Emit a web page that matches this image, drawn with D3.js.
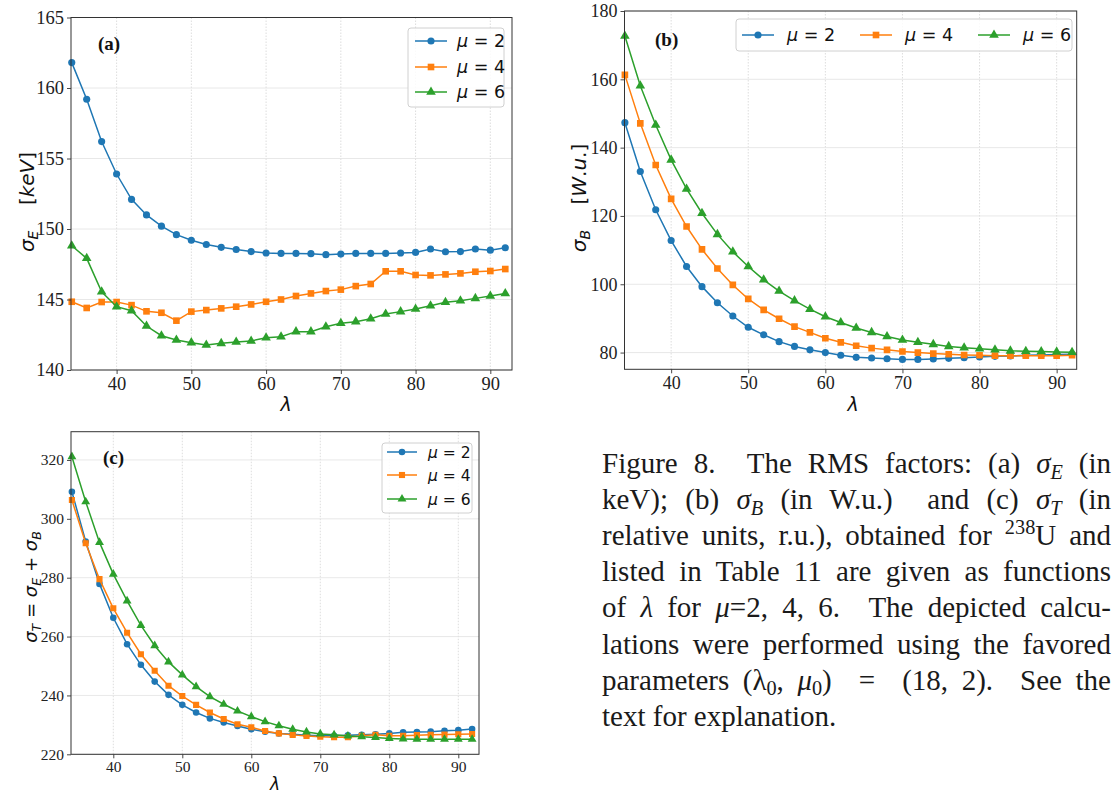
<!DOCTYPE html>
<html><head><meta charset="utf-8">
<script src="https://cdn.jsdelivr.net/npm/d3@7"></script>
<style>body{margin:0;background:#fff;overflow:hidden} svg{display:block}</style>
</head><body>
<svg id="fig" width="1112" height="793"></svg>
<script>
// ---------------- data ----------------
const lambdas = [34,36,38,40,42,44,46,48,50,52,54,56,58,60,62,64,66,68,70,72,74,76,78,80,82,84,86,88,90,92];
const muLabels = ["2","4","6"];

// (a) sigma_E [keV]
const sigmaE_mu2 = [161.8,159.2,156.2,153.9,152.1,151.0,150.2,149.6,149.2,148.9,148.7,148.55,148.4,148.3,148.27,148.27,148.25,148.18,148.22,148.27,148.27,148.27,148.3,148.34,148.58,148.39,148.4,148.58,148.5,148.67];
const sigmaE_mu4 = [144.84,144.4,144.82,144.82,144.6,144.16,144.06,143.5,144.14,144.25,144.37,144.49,144.65,144.84,145.0,145.25,145.43,145.6,145.7,145.95,146.1,147.0,147.0,146.74,146.71,146.78,146.85,146.97,147.02,147.16];
const sigmaE_mu6 = [148.81,147.92,145.55,144.49,144.2,143.12,142.43,142.13,141.94,141.77,141.89,141.98,142.06,142.29,142.36,142.72,142.72,143.07,143.31,143.43,143.64,143.97,144.14,144.32,144.56,144.8,144.91,145.08,145.25,145.43];

// (b) sigma_B [W.u.]
const sigmaB_mu2 = [147.3,133.0,121.8,112.8,105.2,99.3,94.6,90.7,87.4,85.2,83.2,81.8,80.8,80.0,79.2,78.6,78.4,78.2,78.0,78.0,78.1,78.3,78.5,78.7,78.9,79.0,79.2,79.3,79.4,79.5];
const sigmaB_mu4 = [161.3,147.1,134.9,125.0,116.9,110.2,104.6,99.8,95.7,92.5,89.9,87.6,85.9,84.2,83.0,82.0,81.3,80.8,80.3,80.0,79.7,79.5,79.3,79.2,79.1,79.1,79.1,79.1,79.1,79.2];
const sigmaB_mu6 = [172.7,158.1,146.6,136.4,127.9,120.8,114.6,109.5,105.2,101.3,98.0,95.2,92.7,90.5,88.8,87.2,85.9,84.7,83.7,83.0,82.4,81.8,81.4,81.1,80.8,80.5,80.4,80.3,80.2,80.1];

// (c) sigma_T = sigma_E + sigma_B
const sigmaT_mu2 = [309.2,292.3,277.9,266.4,257.4,250.4,244.7,240.2,236.8,234.2,232.2,230.8,229.6,228.5,227.7,227.1,226.8,226.5,226.3,226.3,226.5,226.6,226.8,227.1,227.5,227.6,227.7,228.0,228.2,228.6];
const sigmaT_mu4 = [306.4,291.7,279.5,269.6,261.3,254.0,248.4,243.3,239.8,236.8,234.2,232.0,230.2,229.2,227.9,227.1,226.6,226.2,226.0,225.8,225.8,226.3,226.6,226.3,226.3,226.5,226.6,226.7,226.8,226.9];
const sigmaT_mu6 = [321.1,305.8,292.0,281.2,272.1,263.8,256.9,251.4,247.0,243.0,239.6,237.0,234.7,232.8,231.1,229.7,228.5,227.6,226.9,226.6,226.2,226.0,225.7,225.4,225.2,225.1,225.1,225.1,225.1,225.1];

const xTicks = [40,50,60,70,80,90];
const yTicksA = [140,145,150,155,160,165];
const yTicksB = [80,100,120,140,160,180];
const yTicksC = [220,240,260,280,300,320];

// ---------------- style ----------------
const colors = ["#1f77b4","#ff7f0e","#2ca02c"];
const symbols = [d3.symbolCircle, d3.symbolSquare, d3.symbolTriangle];
const symSizes = [40, 44, 40];
const SERIF = "'Liberation Serif','Times New Roman',serif";
const SANS = "'DejaVu Sans','Liberation Sans',sans-serif";

const svg = d3.select("#fig");

function drawPanel(p) {
  const x = d3.scaleLinear().domain(p.xdom).range([p.left, p.right]);
  const y = d3.scaleLinear().domain(p.ydom).range([p.bottom, p.top]);
  const g = svg.append("g");
  // grid
  g.selectAll(".vg").data(xTicks).join("line")
    .attr("x1", d => x(d)).attr("x2", d => x(d)).attr("y1", p.top).attr("y2", p.bottom)
    .attr("stroke", "#d4d4d4").attr("stroke-width", 0.8).attr("stroke-dasharray", "1.5,1.5");
  g.selectAll(".hg").data(p.yticks).join("line")
    .attr("y1", d => y(d)).attr("y2", d => y(d)).attr("x1", p.left).attr("x2", p.right)
    .attr("stroke", "#e2e2e2").attr("stroke-width", 0.8);
  // series
  const clip = "clip" + p.id;
  svg.append("clipPath").attr("id", clip).append("rect")
    .attr("x", p.left - 6).attr("y", p.top).attr("width", p.right - p.left + 12).attr("height", p.bottom - p.top);
  const sg = g.append("g").attr("clip-path", `url(#${clip})`);
  p.series.forEach((vals, i) => {
    const line = d3.line().x((d, k) => x(lambdas[k])).y(d => y(d));
    sg.append("path").datum(vals).attr("d", line).attr("fill", "none")
      .attr("stroke", colors[i]).attr("stroke-width", 1.5);
    sg.selectAll(null).data(vals).join("path")
      .attr("d", d3.symbol().type(symbols[i]).size(symSizes[i] * p.ms))
      .attr("transform", (d, k) => `translate(${x(lambdas[k])},${y(d)})`)
      .attr("fill", colors[i]);
  });
  // axes
  const xa = g.append("g").attr("transform", `translate(0,${p.bottom})`)
    .call(d3.axisBottom(x).tickValues(xTicks).tickSize(4).tickPadding(3).tickSizeOuter(0));
  const ya = g.append("g").attr("transform", `translate(${p.left},0)`)
    .call(d3.axisLeft(y).tickValues(p.yticks).tickSize(4).tickPadding(3).tickSizeOuter(0));
  [xa, ya].forEach(a => {
    a.select(".domain").remove();
    a.selectAll(".tick line").attr("stroke", "#333").attr("stroke-width", 0.9);
    a.selectAll(".tick text").attr("font-family", SERIF).attr("font-size", p.tickFs).attr("fill", "#222");
  });
  // frame
  g.append("rect").attr("x", p.left).attr("y", p.top).attr("width", p.right - p.left).attr("height", p.bottom - p.top)
    .attr("fill", "none").attr("stroke", "#333").attr("stroke-width", 1);
  // panel tag
  g.append("text").attr("x", p.tag[1]).attr("y", p.tag[2]).text(p.tag[0])
    .attr("font-family", SERIF).attr("font-weight", "bold").attr("font-size", 19).attr("fill", "#111");
  // x label
  g.append("text").attr("x", p.xlab[0]).attr("y", p.xlab[1]).attr("text-anchor", "middle")
    .attr("font-family", SANS).attr("font-style", "italic").attr("font-size", p.labFs).attr("fill", "#111").text("λ");
  return {x, y, g};
}

function legend(items) {
  const L = svg.append("g");
  L.append("rect").attr("x", items.box[0]).attr("y", items.box[1]).attr("width", items.box[2]).attr("height", items.box[3])
    .attr("rx", 3).attr("fill", "#fff").attr("fill-opacity", 0.85).attr("stroke", "#d0d0d0").attr("stroke-width", 1);
  items.entries.forEach((e, i) => {
    const [lx, ly] = e;
    L.append("line").attr("x1", lx).attr("x2", lx + items.len).attr("y1", ly).attr("y2", ly)
      .attr("stroke", colors[i]).attr("stroke-width", 1.5);
    L.append("path").attr("d", d3.symbol().type(symbols[i]).size(symSizes[i] * items.ms)())
      .attr("transform", `translate(${lx + items.len / 2},${ly})`).attr("fill", colors[i]);
    const t = L.append("text").attr("x", lx + items.len + items.gap).attr("y", ly).attr("dy", "0.36em")
      .attr("font-family", SANS).attr("font-size", items.fs).attr("fill", "#111");
    t.append("tspan").attr("font-style", "italic").text("μ");
    t.append("tspan").text(" = " + muLabels[i]);
  });
}

function rotLabel(cx, cy, fs, parts) {
  const t = svg.append("text").attr("transform", `translate(${cx},${cy}) rotate(-90)`)
    .attr("text-anchor", "middle").attr("dy", "0.35em").attr("font-family", SANS).attr("font-size", fs).attr("fill", "#111")
    .style("white-space", "pre");
  let shift = 0;
  parts.forEach(([s, k]) => {
    const ts = t.append("tspan").text(s);
    if (k === "s") {
      ts.attr("font-style", "italic").attr("font-size", fs * 0.7).attr("dy", fs * 0.22 - shift); shift = fs * 0.22;
    } else {
      if (shift) { ts.attr("dy", -shift); shift = 0; }
      if (k === "i") ts.attr("font-style", "italic");
    }
  });
}

// ---------------- panels ----------------
drawPanel({id: "a", left: 71, right: 512, top: 17.5, bottom: 370, xdom: [33.9, 92.9], ydom: [140, 165],
  yticks: yTicksA, tickFs: 18.5, labFs: 19, ms: 1, series: [sigmaE_mu2, sigmaE_mu4, sigmaE_mu6],
  tag: ["(a)", 98, 50], xlab: [286, 411]});
drawPanel({id: "b", left: 624.5, right: 1076.7, top: 11, bottom: 369.3, xdom: [33.95, 92.6], ydom: [75.1, 180],
  yticks: yTicksB, tickFs: 18, labFs: 19, ms: 1, series: [sigmaB_mu2, sigmaB_mu4, sigmaB_mu6],
  tag: ["(b)", 655, 46], xlab: [853, 411]});
drawPanel({id: "c", left: 71, right: 479, top: 431.7, bottom: 754.3, xdom: [33.87, 93.0], ydom: [220, 329.6],
  yticks: yTicksC, tickFs: 15.5, labFs: 17, ms: 0.85, series: [sigmaT_mu2, sigmaT_mu4, sigmaT_mu6],
  tag: ["(c)", 103, 464], xlab: [275, 790]});

legend({box: [408, 28, 96, 79], entries: [[415, 41], [415, 67], [415, 92]], len: 32, gap: 10, fs: 17.5, ms: 1});
legend({box: [736, 19, 336, 32], entries: [[742, 35], [860, 35], [978, 35]], len: 32, gap: 13, fs: 17.5, ms: 1});
legend({box: [382, 443, 90, 70], entries: [[387, 452], [387, 475], [387, 499]], len: 30, gap: 11, fs: 15.5, ms: 0.85});

rotLabel(27, 202, 20, [["σ", "i"], ["E", "s"], ["    [", "n"], ["keV", "i"], ["]", "n"]]);
rotLabel(579, 198, 20, [["σ", "i"], ["B", "s"], ["    [", "n"], ["W", "i"], [".", "n"], ["u", "i"], [".", "n"], ["]", "n"]]);
rotLabel(31, 587, 18, [["σ", "i"], ["T", "s"], [" = ", "n"], ["σ", "i"], ["E", "s"], [" + ", "n"], ["σ", "i"], ["B", "s"]]);

// ---------------- caption ----------------
const captionLines = [
  [["Figure 8.  The RMS factors: (a) ", "n"], ["σ", "i"], ["E", "s"], [" (in", "n"]],
  [["keV); (b) ", "n"], ["σ", "i"], ["B", "s"], [" (in W.u.)  and (c) ", "n"], ["σ", "i"], ["T", "s"], [" (in", "n"]],
  [["relative units, r.u.), obtained for ", "n"], ["238", "sup"], ["U and", "n"]],
  [["listed in Table 11 are given as functions", "n"]],
  [["of ", "n"], ["λ", "i"], [" for ", "n"], ["μ", "i"], ["=2, 4, 6.  The depicted calcu-", "n"]],
  [["lations were performed using the favored", "n"]],
  [["parameters (λ", "n"], ["0", "sub"], [", ", "n"], ["μ", "i"], ["0", "sub"], [")  =  (18, 2).  See the", "n"]],
  [["text for explanation.", "n"]]
];
const capX = 602, capRight = 1111, capY0 = 473, capDY = 36.1, capFs = 29;
captionLines.forEach((parts, li) => {
  const t = svg.append("text").attr("x", capX).attr("y", capY0 + li * capDY)
    .attr("font-family", SERIF).attr("font-size", capFs).attr("fill", "#1a1a1a").style("white-space", "pre");
  let shift = 0;
  parts.forEach(([s, k]) => {
    const ts = t.append("tspan").text(s);
    if (k === "s" || k === "sub") {
      ts.attr("font-size", capFs * 0.7).attr("dy", capFs * 0.2 - shift); shift = capFs * 0.2;
      if (k === "s") ts.attr("font-style", "italic");
    } else if (k === "sup") {
      ts.attr("font-size", capFs * 0.7).attr("dy", -capFs * 0.38 - shift); shift = -capFs * 0.38;
    } else {
      if (shift) { ts.attr("dy", -shift); shift = 0; }
      if (k === "i") ts.attr("font-style", "italic");
    }
  });
  if (li < captionLines.length - 1) {
    const full = parts.map(p => p[0]).join("");
    const nsp = (full.match(/ /g) || []).length;
    const nat = t.node().getComputedTextLength();
    const ws = (capRight - capX - nat) / nsp;
    t.attr("word-spacing", ws.toFixed(2));
  }
});
</script>
</body></html>
